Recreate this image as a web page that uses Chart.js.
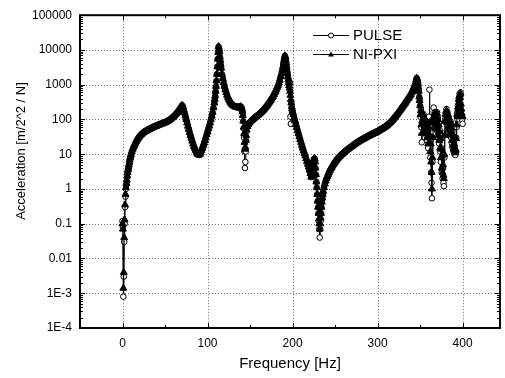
<!DOCTYPE html>
<html><head><meta charset="utf-8">
<script src="https://cdn.jsdelivr.net/npm/chart.js@4/dist/chart.umd.min.js"></script>
<style>html,body{margin:0;padding:0;background:#fff;}#wrap{width:505px;height:378px;position:relative;}</style>
</head><body><div id="wrap"><canvas id="c"></canvas></div>
<script>
const freq = [
0,0.5,1,1.5,2,2.5,3,3.5,4,4.5,
5,5.5,6,6.5,7,7.5,8,8.5,9,9.5,
10,11,12,13,14,15,16,17,18,19,
20,21,22,23,24,25,26,27,28,29,
30,31,32,33,34,35,36,37,38,39,
40,41,42,43,44,45,46,47,48,49,
50,51,52,53,54,55,56,57,58,59,
60,61,62,63,64,65,66,67,68,69,
70,71,72,73,74,75,76,77,78,79,
80,81,82,83,84,85,86,87,88,89,
90,91,92,93,94,95,96,97,98,99,
100,101,102,103,104,105,106,107,108,108.5,
109,109.5,110,110.5,111,111.5,112,112.5,113,113.5,
114,114.5,115,115.5,116,117,118,119,120,121,
122,123,124,125,126,127,128,129,130,131,
132,133,134,135,136,137,138,139,140,140.5,
141,141.5,142,142.5,143,143.5,144,144.5,145,145.5,
146,147,148,149,150,151,152,153,154,155,
156,157,158,159,160,161,162,163,164,165,
166,167,168,169,170,171,172,173,174,175,
176,177,178,179,180,181,182,183,184,185,
186,187,188,189,189.5,190,190.5,191,191.5,192,
192.5,193,193.5,194,194.5,195,195.5,196,196.5,197,
197.5,198,198.5,199,199.5,200,201,202,203,204,
205,206,207,208,209,210,211,212,213,214,
215,216,217,218,219,220,221,222,222.5,223,
223.5,224,224.5,225,225.5,226,226.5,227,227.5,228,
228.5,229,229.5,230,230.5,231,231.5,232,232.5,233,
233.5,234,234.5,235,235.5,236,237,238,239,240,
241,242,243,244,245,246,247,248,249,250,
251,252,253,254,255,256,257,258,259,260,
261,262,263,264,265,266,267,268,269,270,
271,272,273,274,275,276,277,278,279,280,
281,282,283,284,285,286,287,288,289,290,
291,292,293,294,295,296,297,298,299,300,
301,302,303,304,305,306,307,308,309,310,
311,312,313,314,315,316,317,318,319,320,
321,322,323,324,325,326,327,328,329,330,
331,332,333,334,335,336,337,338,339,340,
341,342,343,344,345,345.5,346,346.5,347,347.5,
348,348.5,349,349.5,350,350.5,351,351.5,352,352.5,
353,353.5,354,354.5,355,355.5,356,356.5,357,357.5,
358,358.5,359,359.5,360,360.5,361,361.5,362,362.5,
363,363.5,364,364.5,365,365.5,366,366.5,367,367.5,
368,368.5,369,369.5,370,370.5,371,371.5,372,372.5,
373,373.5,374,374.5,375,375.5,376,376.5,377,377.5,
378,378.5,379,379.5,380,380.5,381,381.5,382,382.5,
383,383.5,384,384.5,385,385.5,386,386.5,387,387.5,
388,388.5,389,389.5,390,390.5,391,391.5,392,392.5,
393,393.5,394,394.5,395,395.5,396,396.5,397,397.5,
398,398.5,399,399.5,400];
const pulse = [
0.12,0.08,0.0008,0.003,0.03,0.1,0.3,0.6,1.0,1.3,
1.6,2.2,2.8,3.4,4,4.7,5.5,6.5,7.5,8.7,
10,12,14,16,18,20.5,23,25.5,28,30.5,
33,35,37,39,41,42.5,44,45.5,47,48.5,
50,51.5,53,54.5,56,57.5,59,60.5,62,63.5,
65,66.5,68,69.5,71,72.5,74,75.5,77,79,
81,83.5,86,89,92,96,100,105,110,116,
122,130,138,146,155,167,180,197,215,235,
255,240,190,155,125,100,80,64,52,42,
35,29,24,20,17,15,13,11.5,10.5,9.8,
9.5,10,11,13,15,18,21,25,30,37,
44,54,65,80,100,125,160,220,300,380,
480,650,900,1300,2000,3300,5500,8500,12500,11000,
9000,6500,5000,3800,3000,2000,1500,1150,900,720,
600,500,430,380,340,310,285,268,255,245,
235,230,225,222,222,224,228,235,225,200,
170,130,90,55,30,12,4,6,12,25,
45,62,72,79,85,90,95,100,105,110,
115,120,126,132,138,145,152,161,170,180,
193,206,220,237,255,275,298,323,350,384,
420,460,515,575,640,735,840,950,1130,1350,
1700,2100,2700,3500,4200,5000,5900,6800,6200,5200,
4200,3300,2600,2100,1700,1400,1150,950,1200,1100,
120,75,300,230,200,170,140,110,90,72,
59,48,39,32,26.5,22,18,15,12.5,10.5,
9,7.5,6.2,5.2,4.3,3.5,2.8,2.2,2.5,3,
4,5,6,7,7.5,7.5,6,4,2.6,1.6,
1.1,0.7,0.45,0.3,0.2,0.12,0.07,0.04,0.07,0.12,
0.2,0.3,0.42,0.55,0.7,0.85,1.1,1.4,1.7,2.0,
2.3,2.65,3.0,3.4,3.8,4.2,4.6,5.1,5.5,6,
6.5,7,7.5,8,8.5,9,9.5,10,10.5,11,
11.6,12.2,12.8,13.4,14,14.6,15.2,15.8,16.4,17,
17.8,18.6,19.4,20.2,21,21.8,22.6,23.4,24.2,25,
25.8,26.6,27.4,28.2,29,30,31,32,33,34,
35,36,37,38,39,40,41.2,42.4,43.7,45,
46.5,48,49.6,51.2,53,55,57,59.3,61.6,64,
67.3,70.7,74.3,78,82,87.5,93.5,100,107,115,
123,132,142,153,165,178,193,209,226,245,
266,288,313,340,370,402,437,475,520,580,
650,740,850,1000,1200,1400,1550,1450,1300,1100,
850,650,450,350,250,120,200,60,22,80,
150,90,140,70,120,55,90,40,75,35,
60,25,45,15,35,120,720,30,8,25,
3,1.5,0.54,6,40,100,220,90,160,70,
150,60,140,50,160,45,110,30,80,20,
50,12,30,6,15,3,8,2,4,1.5,
1.2,8,40,100,150,80,200,100,160,70,
130,55,110,45,90,35,84,30,60,20,
45,15,30,12,20,10,15,9.5,12,30,
60,150,100,250,180,400,300,550,400,600,
250,180,130,100,75];
const nipxi = [
0.1,0.07,0.0014,0.004,0.04,0.13,0.35,0.7,1.1,1.45,
1.8,2.4,3,3.6,4.2,4.9,5.8,6.8,7.8,8.9,
10,12,14,16,18,20.5,23,25.5,28,30.5,
33,35,37,39,41,42.5,44,45.5,47,48.5,
50,51.5,53,54.5,56,57.5,59,60.5,62,63.5,
65,66.5,68,69.5,71,72.5,74,75.5,77,79,
81,83.5,86,89,92,96,100,105,110,116,
122,130,138,146,155,167,180,197,215,235,
255,240,190,155,125,100,80,64,52,42,
35,29,24,20,17,15,13,11.5,10.5,9.8,
9.5,10,11,13,15,18,21,25,30,37,
44,54,65,80,100,125,160,220,300,380,
480,650,900,1300,2000,3300,5500,8500,12500,11000,
9000,6500,5000,3800,3000,2000,1500,1150,900,720,
600,500,430,380,340,310,285,268,255,245,
235,230,225,222,222,224,228,235,225,200,
170,130,90,60,40,22,14,16,25,35,
50,62,72,79,85,90,95,100,105,110,
115,120,126,132,138,145,152,161,170,180,
193,206,220,237,255,275,298,323,350,384,
420,460,515,575,640,735,840,950,1130,1350,
1700,2100,2700,3500,4200,5000,5900,6800,6200,5200,
4200,3300,2600,2100,1700,1400,1150,950,800,650,
500,380,300,230,200,170,140,110,90,72,
59,48,39,32,26.5,22,18,15,12.5,10.5,
9,7.5,6.2,5.2,4.3,3.5,2.8,2.2,2.5,3,
4,5,6,7,7.5,7.5,6,4,2.6,1.6,
1.1,0.7,0.45,0.3,0.2,0.14,0.1,0.07,0.1,0.15,
0.2,0.3,0.42,0.55,0.7,0.85,1.1,1.4,1.7,2.0,
2.3,2.65,3.0,3.4,3.8,4.2,4.6,5.1,5.5,6,
6.5,7,7.5,8,8.5,9,9.5,10,10.5,11,
11.6,12.2,12.8,13.4,14,14.6,15.2,15.8,16.4,17,
17.8,18.6,19.4,20.2,21,21.8,22.6,23.4,24.2,25,
25.8,26.6,27.4,28.2,29,30,31,32,33,34,
35,36,37,38,39,40,41.2,42.4,43.7,45,
46.5,48,49.6,51.2,53,55,57,59.3,61.6,64,
67.3,70.7,74.3,78,82,87.5,93.5,100,107,115,
123,132,142,153,165,178,193,209,226,245,
266,288,313,340,370,402,437,475,520,580,
650,740,850,1000,1200,1400,1550,1450,1300,1100,
850,650,450,350,250,140,180,70,40,90,
140,100,130,80,110,60,85,45,70,40,
55,30,40,20,40,60,80,35,12,20,
6,3,1,8,30,80,120,100,150,80,
140,70,130,60,150,50,100,35,70,25,
45,15,28,8,14,4,9,3,5,2.5,
2,10,35,90,140,90,180,110,150,80,
120,60,100,50,85,40,75,35,55,25,
40,18,28,14,20,12,15,11,13,28,
70,140,120,230,200,380,320,500,420,560,
280,200,150,120,120];
const xTicks = [0,100,200,300,400];
const yTickValues = [1e-4,1e-3,1e-2,1e-1,1,10,100,1000,10000,100000];
const yTickLabels = ['1E-4','1E-3','0.01','0.1','1','10','100','1000','10000','100000'];
const seriesNames = ['PULSE','NI-PXI'];
const yTitle = 'Acceleration [m/2^2 / N]';

const FONT = "'Liberation Sans', Arial, sans-serif";

const framePlugin = {
  id: 'frame',
  beforeDatasetsDraw(chart) {
    const {ctx, chartArea: a, scales: {x, y}} = chart;
    ctx.save();
    ctx.strokeStyle = '#6a6a6a';
    ctx.lineWidth = 1;
    ctx.setLineDash([1, 2]);
    xTicks.forEach(v => {
      const px = Math.round(x.getPixelForValue(v)) + 0.5;
      ctx.beginPath(); ctx.moveTo(px, a.top); ctx.lineTo(px, a.bottom); ctx.stroke();
    });
    yTickValues.slice(1, -1).forEach(v => {
      const py = Math.round(y.getPixelForValue(v)) + 0.5;
      ctx.beginPath(); ctx.moveTo(a.left, py); ctx.lineTo(a.right, py); ctx.stroke();
    });
    ctx.restore();
  },
  afterDraw(chart) {
    const {ctx, chartArea: a, scales: {x, y}} = chart;
    ctx.save();
    ctx.strokeStyle = '#000';
    ctx.lineWidth = 1;
    for (let v = -50; v <= 450; v += 50) {
      const px = Math.round(x.getPixelForValue(v)) + 0.5;
      if (px < a.left || px > a.right) continue;
      const len = (v % 100 === 0) ? 5 : 3;
      ctx.beginPath();
      ctx.moveTo(px, a.bottom); ctx.lineTo(px, a.bottom - len);
      ctx.moveTo(px, a.top); ctx.lineTo(px, a.top + len);
      ctx.stroke();
    }
    for (let e = -4; e <= 5; e++) {
      for (let k = 1; k <= 9; k++) {
        if (e === 5 && k > 1) break;
        const v = k * Math.pow(10, e);
        const py = Math.round(y.getPixelForValue(v)) + 0.5;
        const len = k === 1 ? 5 : 3;
        ctx.beginPath();
        ctx.moveTo(a.left, py); ctx.lineTo(a.left + len, py);
        ctx.moveTo(a.right, py); ctx.lineTo(a.right - len, py);
        ctx.stroke();
      }
    }
    ctx.lineWidth = 2;
    ctx.strokeRect(a.left, a.top, a.right - a.left, a.bottom - a.top);
    // y axis title
    ctx.fillStyle = '#000';
    ctx.font = '13px ' + FONT;
    ctx.textAlign = 'center';
    ctx.textBaseline = 'middle';
    ctx.save();
    ctx.translate(21, 151);
    ctx.rotate(-Math.PI / 2);
    ctx.fillText(yTitle, 0, 0);
    ctx.restore();
    // legend
    const rows = [
      {name: seriesNames[0], y: 35, style: 'circle'},
      {name: seriesNames[1], y: 54, style: 'triangle'}
    ];
    rows.forEach(r => {
      ctx.lineWidth = 1;
      ctx.strokeStyle = '#000';
      ctx.beginPath(); ctx.moveTo(313, r.y + 0.5); ctx.lineTo(349, r.y + 0.5); ctx.stroke();
      if (r.style === 'circle') {
        ctx.fillStyle = '#fff';
        ctx.beginPath(); ctx.arc(331, r.y + 0.5, 2.5, 0, Math.PI * 2); ctx.fill(); ctx.stroke();
      } else {
        ctx.fillStyle = '#000';
        ctx.beginPath(); ctx.moveTo(331, r.y - 2.5); ctx.lineTo(334, r.y + 2.5); ctx.lineTo(328, r.y + 2.5); ctx.closePath(); ctx.fill();
      }
      ctx.fillStyle = '#000';
      ctx.font = '15px ' + FONT;
      ctx.textBaseline = 'middle';
      ctx.textAlign = 'left';
      ctx.fillText(r.name, 353, r.y + 1);
    });
    ctx.restore();
  }
};

const mk = (arr) => freq.map((f, i) => ({x: f, y: arr[i]}));

new Chart(document.getElementById('c'), {
  type: 'line',
  data: {
    datasets: [
      {
        label: seriesNames[1], data: mk(nipxi), order: 0,
        borderColor: '#000', borderWidth: 1, tension: 0,
        pointStyle: 'triangle', pointRadius: 4, pointBackgroundColor: '#000', pointBorderColor: '#000', pointBorderWidth: 1
      },
      {
        label: seriesNames[0], data: mk(pulse), order: 1,
        borderColor: '#000', borderWidth: 1, tension: 0,
        pointStyle: 'circle', pointRadius: 2.8, pointBackgroundColor: '#fff', pointBorderColor: '#000', pointBorderWidth: 1
      }
    ]
  },
  options: {
    responsive: true, maintainAspectRatio: false, animation: false, devicePixelRatio: 1,
    layout: {padding: {left: 0, right: 1, top: 12, bottom: 0}},
    plugins: {legend: {display: false}, tooltip: {enabled: false}},
    scales: {
      x: {
        type: 'linear', min: -50, max: 444,
        afterBuildTicks: s => { s.ticks = xTicks.map(v => ({value: v})); },
        afterFit: s => { s.height = 50; },
        grid: {display: false, drawTicks: false, tickLength: 0},
        border: {display: false},
        ticks: {color: '#000', font: {family: FONT, size: 12}, padding: 8, maxRotation: 0, autoSkip: false},
        title: {display: true, text: 'Frequency [Hz]', color: '#000', font: {family: FONT, size: 15}, padding: {top: 0, bottom: 5}}
      },
      y: {
        type: 'logarithmic', min: 1e-4, max: 1e5,
        afterBuildTicks: s => { s.ticks = yTickValues.map(v => ({value: v, major: true})); },
        afterFit: s => { s.width = 80; },
        grid: {display: false, drawTicks: false, tickLength: 0},
        border: {display: false},
        ticks: {
          color: '#000', font: {family: FONT, size: 12}, padding: 8, autoSkip: false,
          callback: (v) => yTickLabels[Math.round(Math.log10(v)) + 4]
        },
        title: {display: false}
      }
    }
  },
  plugins: [framePlugin]
});
</script>
</body></html>
